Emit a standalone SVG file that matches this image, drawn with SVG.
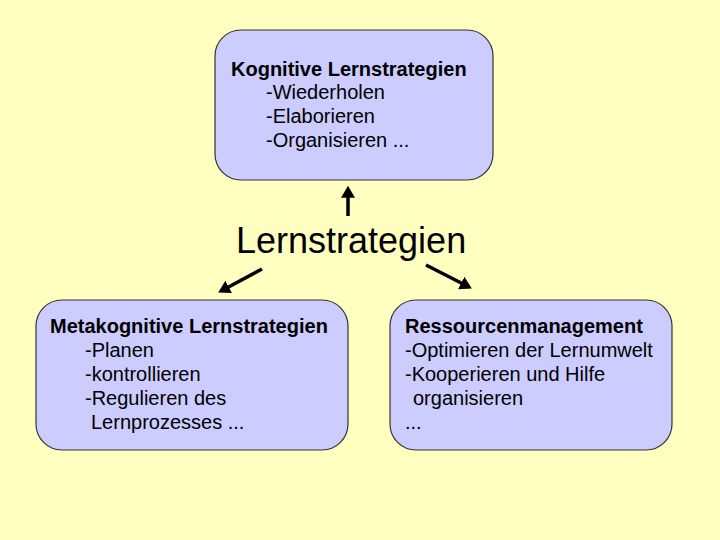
<svg xmlns="http://www.w3.org/2000/svg" width="720" height="540" viewBox="0 0 720 540">
<style>
.box{fill:#CCCCFF;stroke:#333333;stroke-width:1.2}
.t{font-family:"Liberation Sans",Arial,sans-serif;font-size:20px;fill:#000}
.b{font-weight:bold}
.big{font-family:"Liberation Sans",Arial,sans-serif;font-size:36px;fill:#000}
.conn{stroke:#000;stroke-width:3.5;fill:none;marker-end:url(#ah)}
</style>
<defs>
<marker id="ah" markerWidth="4" markerHeight="4" refX="2.5" refY="2" orient="auto" markerUnits="strokeWidth">
<path d="M0,0 L3.4,2 L0,4 Z" fill="#000"/>
</marker>
</defs>
<rect width="720" height="540" fill="#FFFFC0"/>
<g id="connectors">
<line class="conn" x1="348" y1="216" x2="348" y2="189"/>
<line class="conn" x1="262" y1="269" x2="221" y2="291"/>
<line class="conn" x1="426" y1="265" x2="469" y2="287"/>
</g>
<g id="center">
<text class="big" x="236" y="253">Lernstrategien</text>
</g>
<g id="kognitive">
<rect class="box" x="215" y="30" width="278" height="150" rx="26"/>
<text class="t b" x="231" y="76">Kognitive Lernstrategien</text>
<text class="t" x="266" y="99">-Wiederholen</text>
<text class="t" x="266" y="123">-Elaborieren</text>
<text class="t" x="266" y="147">-Organisieren ...</text>
</g>
<g id="metakognitive">
<rect class="box" x="36" y="300" width="312" height="150" rx="26"/>
<text class="t b" x="50" y="333">Metakognitive Lernstrategien</text>
<text class="t" x="85" y="357">-Planen</text>
<text class="t" x="85" y="381">-kontrollieren</text>
<text class="t" x="85" y="405">-Regulieren des</text>
<text class="t" x="91" y="429">Lernprozesses ...</text>
</g>
<g id="ressourcen">
<rect class="box" x="390" y="300" width="282" height="150" rx="26"/>
<text class="t b" x="405" y="333">Ressourcenmanagement</text>
<text class="t" x="405" y="357">-Optimieren der Lernumwelt</text>
<text class="t" x="405" y="381">-Kooperieren und Hilfe</text>
<text class="t" x="413" y="405">organisieren</text>
<text class="t" x="405" y="429">...</text>
</g>
</svg>
